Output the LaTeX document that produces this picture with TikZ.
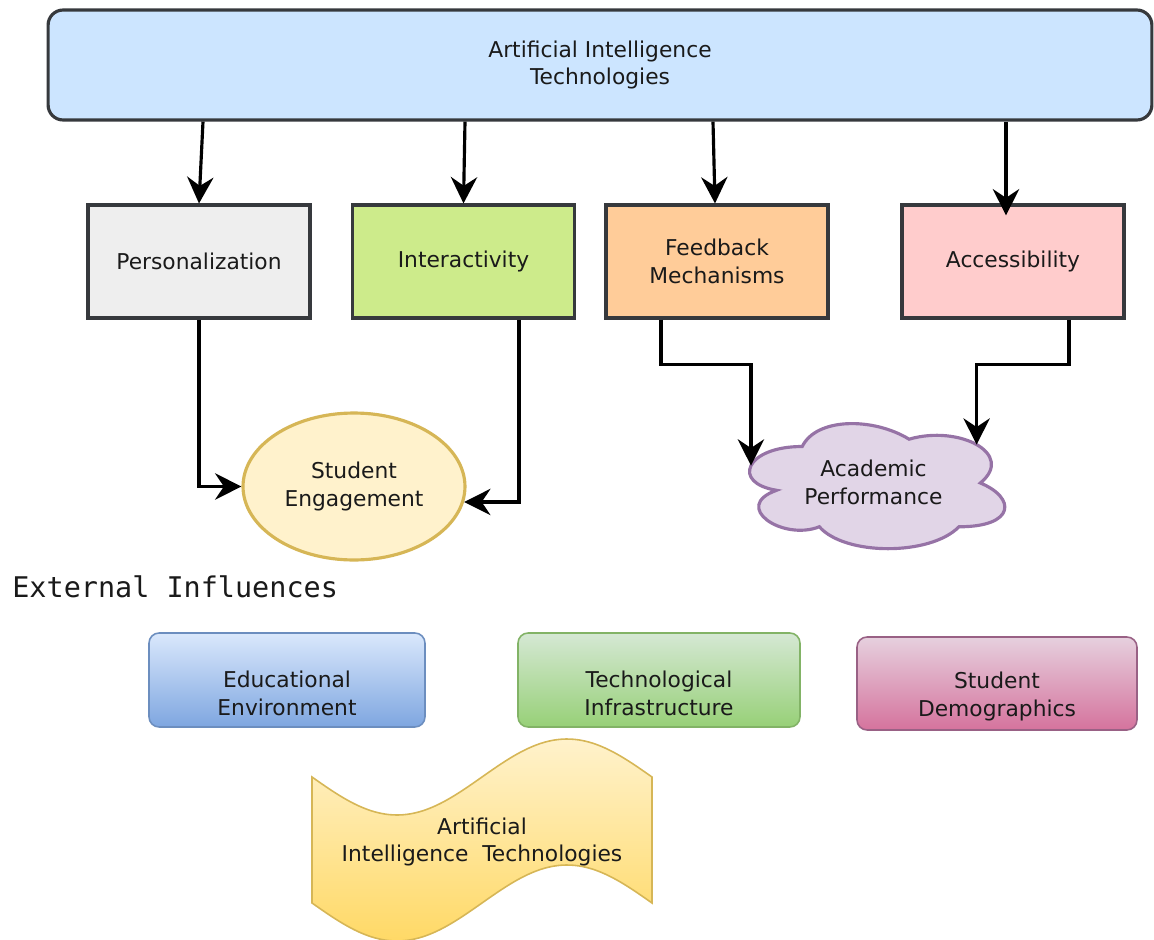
\documentclass[tikz,border=0pt]{standalone}
\usepackage{fontspec}
\setmainfont{DejaVu Sans}
\newfontfamily\monofont{DejaVu Sans Mono}
\usetikzlibrary{arrows.meta,calc,shapes.geometric}
\definecolor{dkline}{HTML}{36393D}
\definecolor{topfill}{HTML}{CCE5FF}
\definecolor{persfill}{HTML}{EEEEEE}
\definecolor{interfill}{HTML}{CDEB8B}
\definecolor{feedfill}{HTML}{FFCC99}
\definecolor{accfill}{HTML}{FFCCCC}
\definecolor{engfill}{HTML}{FFF2CC}
\definecolor{engline}{HTML}{D6B656}
\definecolor{perffill}{HTML}{E1D5E7}
\definecolor{perfline}{HTML}{9673A6}
\definecolor{edtop}{HTML}{DAE8FC}
\definecolor{edbot}{HTML}{7EA6E0}
\definecolor{edline}{HTML}{6C8EBF}
\definecolor{tetop}{HTML}{D5E8D4}
\definecolor{tebot}{HTML}{97D077}
\definecolor{teline}{HTML}{82B366}
\definecolor{detop}{HTML}{E6D0DE}
\definecolor{debot}{HTML}{D5739D}
\definecolor{deline}{HTML}{996185}
\definecolor{wavetop}{HTML}{FFF2CC}
\definecolor{wavebot}{HTML}{FFD966}
\definecolor{txt}{HTML}{1A1A1A}
\begin{document}
\begin{tikzpicture}[x=0.02cm,y=-0.02cm,
  every node/.style={font=\fontsize{12.4}{15.9}\selectfont, align=center, text=txt},
  box/.style={draw=dkline, line width=1.8pt, minimum width=4.44cm, minimum height=2.26cm, inner sep=0pt},
  arr/.style={line width=1.8pt, -{Stealth[length=15pt,width=15pt,inset=5pt]}},
  gbox/.style={rounded corners=0.2cm, line width=0.9pt, inner sep=0pt},
  gtext/.style={yshift=-0.26cm, align=center},
]
\useasboundingbox (0,0) rectangle (1154,940);

% top box
\node[box, fill=topfill, rounded corners=0.3cm, minimum width=22.08cm, minimum height=2.2cm] (top) at (600,65) {Artificial Intelligence\\Technologies};

% second row
\node[box, fill=persfill] (pers) at (199,261.5) {Personalization};
\node[box, fill=interfill] (inter) at (463.5,261.5) {Interactivity};
\node[box, fill=feedfill] (feed) at (717,261.5) {Feedback\\Mechanisms};
\node[box, fill=accfill] (acc) at (1013,261.5) {Accessibility};

% ellipse
\node[ellipse, draw=engline, fill=engfill, line width=1.8pt, minimum width=4.44cm, minimum height=2.94cm, inner sep=0pt] (eng) at (354,486.5) {Student\\Engagement};

% cloud
\begin{scope}[shift={(731,410)}, x=5.7cm, y=-2.92cm]
\draw[draw=perfline, fill=perffill, line width=1.8pt]
  (0.25,0.25) .. controls (0.05,0.25) and (0,0.5) .. (0.16,0.55)
  .. controls (0,0.66) and (0.18,0.9) .. (0.31,0.8)
  .. controls (0.4,1) and (0.7,1) .. (0.8,0.8)
  .. controls (1,0.8) and (1,0.6) .. (0.875,0.5)
  .. controls (1,0.3) and (0.8,0.1) .. (0.625,0.2)
  .. controls (0.5,0.05) and (0.3,0.05) .. (0.25,0.25) -- cycle;
\coordinate (perfL) at (0.07,0.381);
\coordinate (perfR) at (0.862,0.2375);
\node (perf) at (0.5,0.495) {Academic\\Performance};
\end{scope}

% arrows from top
\draw[arr] (top.south -| 203,0) -- (pers.north);
\draw[arr] (top.south -| 465,0) -- (inter.north);
\draw[arr] (top.south -| 713,0) -- (feed.north -| 715,0);
\draw[arr] (top.south -| 1006,0) -- ($(acc.north -| 1006,0)+(0,12)$);

% elbow arrows
\draw[arr] (pers.south) |- (eng.west);
\draw[arr] (inter.south -| 519,0) |- (eng.-8.7);
\draw[arr] (feed.south -| 661,0) -- ++(0,45) -| (perfL);
\draw[arr] (acc.south -| 1069,0) -- ++(0,45) -| (perfR);

% external influences
\node[anchor=west, inner sep=0pt, font=\monofont\fontsize{16.2}{18}\selectfont] (ext) at (12,587) {External Influences};

\node[gbox, draw=edline, top color=edtop, bottom color=edbot, minimum width=5.52cm, minimum height=1.88cm,
  label={[gtext, name=edutext]center:Educational\\Environment}] (edu) at (287,680) {};
\node[gbox, draw=teline, top color=tetop, bottom color=tebot, minimum width=5.64cm, minimum height=1.88cm,
  label={[gtext, name=techtext]center:Technological\\Infrastructure}] (tech) at (659,680) {};
\node[gbox, draw=deline, top color=detop, bottom color=debot, minimum width=5.6cm, minimum height=1.86cm,
  label={[gtext, name=demotext]center:Student\\Demographics}] (demo) at (997,683.5) {};

% wave
\draw[draw=engline, line width=0.9pt, top color=wavetop, bottom color=wavebot]
  plot[domain=0:340, samples=80, smooth] ({312+\x},{777+38*sin(\x*1.0588235)})
  -- plot[domain=340:0, samples=80, smooth] ({312+\x},{903+38*sin(\x*1.0588235)}) -- cycle;
\node (wave) at (482,842) {Artificial\\Intelligence\ \ Technologies};
\end{tikzpicture}
\end{document}
